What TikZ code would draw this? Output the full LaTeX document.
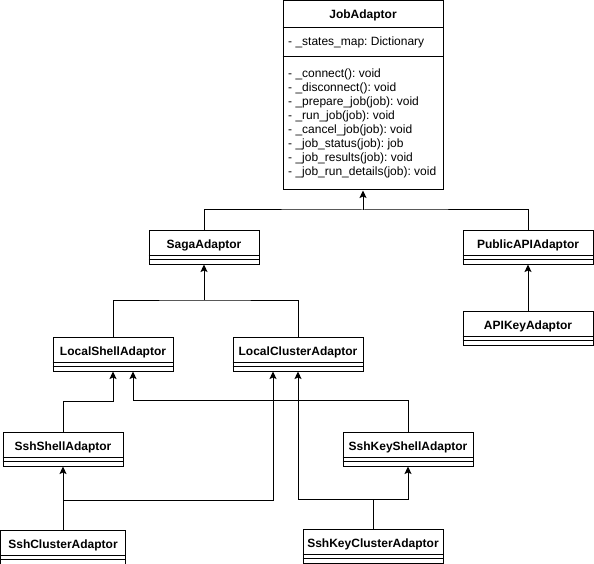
\documentclass[tikz,border=0pt]{standalone}
\usepackage{fontspec}
\setmainfont{Liberation Sans}
\usepackage{tikz}
\usetikzlibrary{arrows.meta, positioning}
\frenchspacing

\begin{document}
\begin{tikzpicture}[
    x=1pt, y=-1pt,
    font=\fontsize{12}{14}\selectfont,
    classbox/.style={rectangle, draw, line width=1pt, fill=white, inner xsep=0pt, inner ysep=0pt,
                     text height=18.6pt, text depth=15.4pt, font=\fontsize{12}{14}\selectfont\bfseries,
                     append after command={
                       ([yshift=-26pt]\tikzlastnode.north west) edge[line width=1pt] ([yshift=-26pt]\tikzlastnode.north east)
                       ([yshift=-30pt]\tikzlastnode.north west) edge[line width=1pt] ([yshift=-30pt]\tikzlastnode.north east)}},
    title/.style={font=\fontsize{12}{14}\selectfont\bfseries, inner sep=0pt},
    member/.style={anchor=west, inner sep=0pt, align=left, font=\fontsize{12}{14}\selectfont},
    inh/.style={-{Stealth[length=7.5pt, width=7pt, inset=1.5pt]}, line width=1pt},
    link/.style={line width=1pt}
]

\path[fill=white, use as bounding box] (0,0) rectangle (594,564);

% JobAdaptor
\node[rectangle, draw, line width=1pt, minimum width=160pt, minimum height=189.5pt, inner sep=0pt] (jobadaptor) at (363,95.25) {};
\node[title] (jobtitle) at (363,15.5) {JobAdaptor};
\draw[link] ([yshift=-27.5pt]jobadaptor.north west) -- ([yshift=-27.5pt]jobadaptor.north east);
\draw[link] ([yshift=-56.5pt]jobadaptor.north west) -- ([yshift=-56.5pt]jobadaptor.north east);
\node[member] (statesmap) at (288,42) {- \_states\_map: Dictionary};
\node[member] (methods) at (288,123) {- \_connect(): void\\
- \_disconnect(): void\\
- \_prepare\_job(job): void\\
- \_run\_job(job): void\\
- \_cancel\_job(job): void\\
- \_job\_status(job): job\\
- \_job\_results(job): void\\
- \_job\_run\_details(job): void};

% Second level
\node[classbox, minimum width=110pt] (sagaadaptor) at (204,247) {SagaAdaptor};
\node[classbox, minimum width=130pt] (publicapiadaptor) at (528,247) {PublicAPIAdaptor};
\node[classbox, minimum width=130pt, below=46pt of publicapiadaptor] (apikeyadaptor) {APIKeyAdaptor};

% Local adaptors
\node[classbox, minimum width=120pt] (localshelladaptor) at (113,354) {LocalShellAdaptor};
\node[classbox, minimum width=130pt] (localclusteradaptor) at (298,354) {LocalClusterAdaptor};

% Ssh adaptors
\node[classbox, minimum width=120pt] (sshshelladaptor) at (63,449) {SshShellAdaptor};
\node[classbox, minimum width=130pt] (sshkeyshelladaptor) at (408,449) {SshKeyShellAdaptor};
\node[classbox, minimum width=125pt, below=63pt of sshshelladaptor] (sshclusteradaptor) {SshClusterAdaptor};
\node[classbox, minimum width=140pt] (sshkeyclusteradaptor) at (373,546) {SshKeyClusterAdaptor};

% Inheritance
\coordinate (topjoin) at (363,210);
\draw[inh] (topjoin) -- (jobadaptor.south);
\draw[link] (sagaadaptor.north) |- (topjoin) -| (publicapiadaptor.north);
\draw[inh] (apikeyadaptor.north) -- (publicapiadaptor.south);

\coordinate (sagajoin) at (204,300);
\draw[inh] (sagajoin) -- (sagaadaptor.south);
\draw[link] (localshelladaptor.north) |- (sagajoin) -| (localclusteradaptor.north);

\draw[inh] (sshshelladaptor.north) -- ++(0,-30) -| (localshelladaptor.south);
\draw[inh] (sshkeyshelladaptor.north) -- ++(0,-31) -| ([xshift=20pt]localshelladaptor.south);

\draw[inh] (sshclusteradaptor.north) -- (sshshelladaptor.south);
\draw[inh] (sshclusteradaptor.north) -- ++(0,-29) -| ([xshift=-25pt]localclusteradaptor.south);
\draw[inh] (sshkeyclusteradaptor.north) -- ++(0,-29) -| (localclusteradaptor.south);
\draw[inh] (sshkeyclusteradaptor.north) -- ++(0,-29) -| (sshkeyshelladaptor.south);

\end{tikzpicture}
\end{document}
